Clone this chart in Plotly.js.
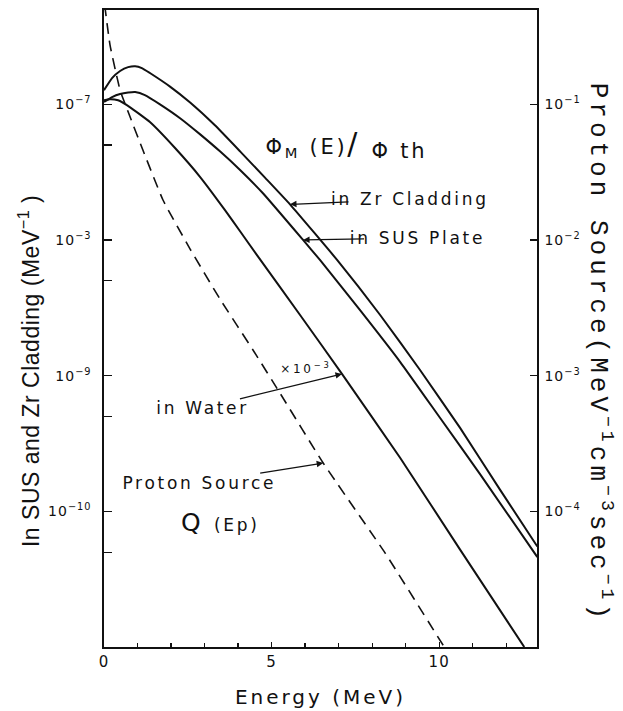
<!DOCTYPE html>
<html>
<head>
<meta charset="utf-8">
<script src="https://cdn.plot.ly/plotly-3.0.1.min.js"></script>
<style>
  html, body { margin: 0; padding: 0; background: #fff; }
  .xtick text, .ytick text, .y2tick text { letter-spacing: 1px; }
  .xtitle { letter-spacing: 3px; }
  .annotation text { letter-spacing: 2.7px; }
  .annotation[data-index="0"] text { letter-spacing: 0.5px; }
  .annotation[data-index="1"] text { letter-spacing: 4px; }
</style>
</head>
<body>
<div id="chart" style="width:623px;height:711px;"></div>
<script>
// ---- data ----
// phi_M(E)/phi_th in Zr cladding (MeV^-1), left axis
const energyZr = [0, 0.24, 0.48, 0.72, 0.93, 1.13, 1.37, 1.97, 2.57, 3.31, 4.06, 4.81, 5.55, 6.96, 8.24, 9.43, 10.63, 11.82, 12.93];
const fluxZr = [1.27e-7, 1.56e-7, 1.76e-7, 1.88e-7, 1.91e-7, 1.85e-7, 1.70e-7, 1.35e-7, 1.03e-7, 7.0e-8, 4.5e-8, 2.87e-8, 1.83e-8, 7.1e-9, 2.80e-9, 1.10e-9, 4.1e-10, 1.44e-10, 5.5e-11];

// in SUS plate
const energySUS = [0, 0.24, 0.48, 0.72, 0.93, 1.22, 1.67, 2.27, 2.87, 3.46, 4.06, 4.75, 5.94, 6.45, 7.64, 8.84, 10.03, 11.22, 12.93];
const fluxSUS = [1.04e-7, 1.13e-7, 1.19e-7, 1.22e-7, 1.23e-7, 1.17e-7, 1.0e-7, 7.9e-8, 6.0e-8, 4.5e-8, 3.28e-8, 2.2e-8, 1.0e-8, 7.1e-9, 3.04e-9, 1.26e-9, 4.87e-10, 1.88e-10, 4.6e-11];

// in water (x10^-3)
const energyWater = [0, 0.18, 0.42, 0.78, 1.37, 2.12, 2.87, 3.61, 4.06, 4.57, 5.85, 7.10, 8.84, 10.63, 12.54];
const fluxWater = [1.07e-7, 1.09e-7, 1.07e-7, 9.5e-8, 7.4e-8, 4.76e-8, 2.91e-8, 1.66e-8, 1.16e-8, 7.7e-9, 2.80e-9, 1.03e-9, 2.47e-10, 5.2e-11, 1.0e-11];

// proton source Q(Ep) (MeV^-1 cm^-3 sec^-1), right axis
const energyProton = [0.02, 0.18, 0.48, 0.78, 1.16, 1.76, 2.57, 3.46, 4.45, 5.25, 6.54, 8.39, 10.12, 10.33];
const sourceProton = [0.54, 0.273, 0.127, 0.0805, 0.046, 0.0197, 8.57e-3, 3.67e-3, 1.54e-3, 7.44e-4, 2.27e-4, 4.92e-5, 1.03e-5, 8.6e-6];

// tick labels
const xTickVals = [0, 5, 10];
const xTickText = ['0', '5', '10'];
const leftTickVals = [1e-7, 1e-8, 1e-9, 1e-10];
const leftTickText = ['10<sup>−7</sup>', '10<sup>−3</sup>', '10<sup>−9</sup>', '10<sup>−10</sup>'];
const leftMinorVals = [5e-8, 5e-9, 5e-10, 5e-11];
const rightTickVals = [1e-1, 1e-2, 1e-3, 1e-4];
const rightTickText = ['10<sup>−1</sup>', '10<sup>−2</sup>', '10<sup>−3</sup>', '10<sup>−4</sup>'];

// ---- drawing ----
const ink = '#111';
const solid = {color: ink, width: 2, shape: 'spline', smoothing: 0.4};

const traces = [
  {x: energyZr, y: fluxZr, type: 'scatter', mode: 'lines', line: solid, name: 'in Zr Cladding', yaxis: 'y'},
  {x: energySUS, y: fluxSUS, type: 'scatter', mode: 'lines', line: solid, name: 'in SUS Plate', yaxis: 'y'},
  {x: energyWater, y: fluxWater, type: 'scatter', mode: 'lines', line: solid, name: 'in Water', yaxis: 'y'},
  {x: energyProton, y: sourceProton, type: 'scatter', mode: 'lines',
   line: {color: ink, width: 1.6, dash: '11px,7px', shape: 'spline', smoothing: 0.4},
   name: 'Proton Source', yaxis: 'y2'}
];

const iZr = 12, iSUS = 12, iW = 11, iP = 10;
const lbl = {family: 'DejaVu Sans', size: 17, color: ink};
const arrowBase = {showarrow: true, arrowhead: 2, arrowsize: 1, arrowwidth: 1.3, arrowcolor: ink,
                   xanchor: 'center', yanchor: 'middle'};
const plain = {showarrow: false, xanchor: 'center', yanchor: 'middle', xref: 'paper', yref: 'paper'};

const layout = {
  width: 623, height: 711,
  margin: {l: 104, r: 86, t: 10, b: 64},
  paper_bgcolor: '#fff', plot_bgcolor: '#fff',
  showlegend: false,
  font: {family: 'DejaVu Sans', color: ink, size: 14},
  xaxis: {
    range: [0, 12.92], showgrid: false, zeroline: false,
    showline: true, linecolor: ink, linewidth: 1.6, mirror: true,
    ticks: 'inside', ticklen: 5, tickwidth: 1.2, tickcolor: ink,
    tickmode: 'array', tickvals: xTickVals, ticktext: xTickText,
    minor: {dtick: 1, ticks: 'inside', ticklen: 4, tickwidth: 1.2, tickcolor: ink},
    tickfont: {size: 15},
    title: {text: 'Energy (MeV)', font: {size: 20}, standoff: 20}
  },
  yaxis: {
    type: 'log', range: [-11, -6.305], showgrid: false, zeroline: false,
    showline: true, linecolor: ink, linewidth: 1.6,
    ticks: 'inside', ticklen: 8, tickwidth: 1.3, tickcolor: ink,
    tickmode: 'array', tickvals: leftTickVals, ticktext: leftTickText,
    minor: {tickmode: 'array', tickvals: leftMinorVals, ticks: 'inside', ticklen: 8, tickwidth: 1.3, tickcolor: ink},
    tickfont: {size: 14}, ticklabelstandoff: 8
  },
  yaxis2: {
    type: 'log', range: [-5, -0.305], overlaying: 'y', side: 'right',
    showgrid: false, zeroline: false,
    showline: true, linecolor: ink, linewidth: 1.6,
    ticks: 'inside', ticklen: 7, tickwidth: 1.3, tickcolor: ink,
    tickmode: 'array', tickvals: rightTickVals, ticktext: rightTickText,
    tickfont: {size: 14}, ticklabelstandoff: 3
  },
  annotations: [
    Object.assign({x: -0.173, y: 0.433, textangle: -90,
     text: 'In SUS and Zr Cladding (MeV<sup>−1</sup> )',
     font: {family: 'Liberation Sans', size: 23, color: ink}}, plain),
    Object.assign({x: 1.1455, y: 0.462, textangle: 90,
     text: 'Proton Source(MeV<sup>−1</sup>cm<sup>−3</sup>sec<sup>−1</sup>)',
     font: {family: 'Liberation Mono', size: 26, color: ink}}, plain),
    Object.assign({xref: 'x', yref: 'y', x: energyZr[iZr], y: Math.log10(fluxZr[iZr]),
     ax: 120, ay: -5, text: 'in Zr Cladding', font: lbl}, arrowBase),
    Object.assign({xref: 'x', yref: 'y', x: energySUS[iSUS], y: Math.log10(fluxSUS[iSUS]),
     ax: 114, ay: -2, text: 'in SUS Plate', font: lbl}, arrowBase),
    Object.assign({xref: 'x', yref: 'y', x: energyWater[iW], y: Math.log10(fluxWater[iW]),
     ax: -139, ay: 34, text: 'in Water', font: lbl}, arrowBase),
    Object.assign({xref: 'x', yref: 'y2', x: energyProton[iP], y: Math.log10(sourceProton[iP]),
     ax: -124, ay: 20, text: 'Proton Source', font: lbl}, arrowBase),
    Object.assign({x: 0.4665, y: 0.438,
     text: '×10<sup>−3</sup>', font: {family: 'DejaVu Sans', size: 12, color: ink}}, plain),
    Object.assign({x: 0.268, y: 0.1947,
     text: 'Q <span style="font-size:17px">(Ep)</span>', font: {family: 'DejaVu Sans', size: 25, color: ink}}, plain),
    Object.assign({x: 0.390, y: 0.791,
     text: 'Φ<sub>M</sub> (E)<span style="font-size:30px">/</span>', font: {family: 'DejaVu Sans', size: 21, color: ink}}, plain, {xanchor: 'left'}),
    Object.assign({x: 0.626, y: 0.7786,
     text: 'Φ th', font: {family: 'DejaVu Sans', size: 21, color: ink}}, plain, {xanchor: 'left'})
  ]
};

Plotly.newPlot('chart', traces, layout, {displayModeBar: false, staticPlot: true});
</script>
</body>
</html>
